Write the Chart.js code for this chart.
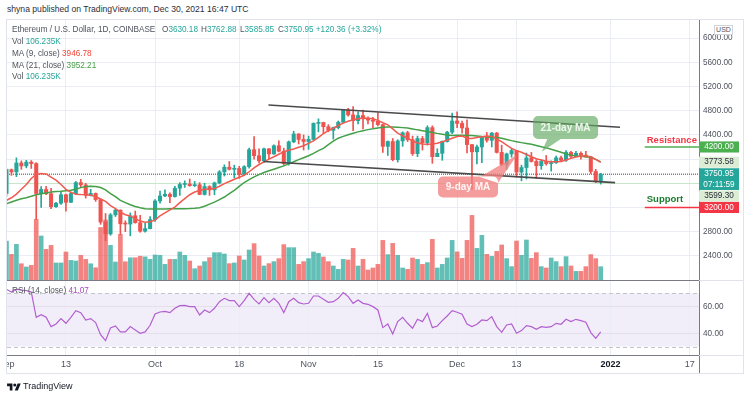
<!DOCTYPE html>
<html>
<head>
<meta charset="utf-8">
<script src="https://cdn.jsdelivr.net/npm/chart.js@4.4.0/dist/chart.umd.min.js"></script>
<style>
  body { margin: 0; width: 750px; height: 398px; position: relative; overflow: hidden; background: #fff;
         font-family: "Liberation Sans", Arial, sans-serif; }
  #frame { position: absolute; left: 6px; top: 19px; width: 738px; height: 355px; box-sizing: border-box; border: 1px solid #e0e3eb; }
  canvas { position: absolute; }
  .t { position: absolute; white-space: nowrap; font-size: 8.2px; line-height: 11px; color: #50535e; z-index: 5; }
  .up { color: #26a69a; }
  #usd { position: absolute; left: 714px; top: 25px; width: 17px; height: 8px; border: 1px solid #d1d4dc; background: #fff;
         font-size: 7px; line-height: 8px; text-align: center; color: #50535e; z-index: 5; }
</style>
</head>
<body>
<div id="frame"></div>
<canvas id="main" width="736" height="260" style="left:7px;top:20px"></canvas>
<canvas id="rsi" width="736" height="93" style="left:7px;top:280px"></canvas>

<div class="t" style="left:7px;top:4px;font-size:8.6px;color:#2a2e39">shyna published on TradingView.com, Dec 30, 2021 16:47 UTC</div>
<div class="t" style="left:12px;top:24px">Ethereum / U.S. Dollar, 1D, COINBASE</div>
<div class="t" style="left:162px;top:24px">O<span class="up">3630.18</span></div>
<div class="t" style="left:201px;top:24px">H<span class="up">3762.88</span></div>
<div class="t" style="left:240px;top:24px">L<span class="up">3585.85</span></div>
<div class="t" style="left:278px;top:24px">C<span class="up">3750.95</span> <span class="up">+120.36 (+3.32%)</span></div>
<div class="t" style="left:12px;top:36px">Vol <span class="up">106.235K</span></div>
<div class="t" style="left:12px;top:48px">MA (9, close) <span style="color:#f44336">3946.78</span></div>
<div class="t" style="left:12px;top:59.5px">MA (21, close) <span style="color:#43a047">3952.21</span></div>
<div class="t" style="left:12px;top:71px">Vol <span class="up">106.235K</span></div>
<div id="usd">USD</div>
<div class="t" style="left:12px;top:285px">RSI (14, close) <span style="color:#ab47bc">41.07</span></div>
<svg style="position:absolute;left:7px;top:382px" width="14" height="10" viewBox="0 0 36 26"><path d="M14 22H7V11H0V4h14v18zM28 22h-8l7.5-18h8L28 22z" fill="#131722"/><circle cx="20" cy="8" r="4" fill="#131722"/></svg>
<div class="t" style="left:23px;top:381px;font-size:9px;color:#131722">TradingView</div>

<script>
// ETH/USD daily, Sep 1 - Dec 30 2021
const priceOpen = [
  3430,3825,3787,3935,3887,3950,3926,3430,3497,3427,3212,3270,3410,3285,3429,3611,3573,3399,3432,3330,2958,2762,3077,3155,2930,2925,3063,2947,2807,2850,
  3000,3307,3390,3418,3380,3518,3580,3587,3560,3575,3415,3545,3490,3605,3788,3865,3830,3845,3745,3875,4155,4055,3970,4170,4085,4220,4130,3925,4285,4415,4325,
  4290,4325,4590,4605,4535,4475,4520,4610,4810,4730,4635,4720,4665,4645,4625,4570,4210,4290,3990,4300,4435,4320,4090,4340,4270,4520,4040,4095,4290,4445,
  4630,4590,4515,4240,4120,4200,4355,4310,4430,4110,3910,4085,4140,3785,3860,4020,3960,3890,3960,3925,3940,4020,3980,4110,4045,4095,4065,4035,3795,3630.18
];
const priceHigh = [
  3840,3835,4020,3970,3980,3975,3940,3545,3550,3515,3285,3450,3420,3450,3630,3665,3600,3500,3440,3340,3100,3100,3170,3160,2980,3110,3140,3070,2940,3050,
  3330,3470,3490,3440,3550,3610,3640,3670,3630,3610,3600,3560,3620,3810,3905,3960,3900,3880,3890,4180,4370,4170,4180,4175,4235,4300,4180,4300,4460,4420,4400,
  4380,4600,4665,4610,4570,4530,4630,4820,4840,4870,4780,4810,4700,4690,4770,4580,4300,4340,4320,4450,4460,4380,4380,4375,4550,4550,4170,4300,4460,4760,
  4780,4630,4650,4240,4230,4360,4440,4440,4440,4230,4100,4180,4140,3900,4100,4110,3990,3990,4060,3970,4050,4050,4140,4130,4130,4120,4130,4040,3830,3762.88
];
const priceLow = [
  3385,3730,3710,3830,3855,3845,3000,3200,3410,3180,3200,3250,3140,3280,3420,3530,3355,3390,3300,2920,2650,2740,3050,2750,2800,2730,2940,2790,2790,2845,
  2970,3270,3380,3280,3370,3400,3530,3550,3545,3410,3405,3400,3410,3590,3720,3820,3690,3680,3725,3850,4000,3935,3950,4000,4075,4120,3900,3900,4270,4250,4150,
  4160,4310,4450,4430,4450,4330,4500,4600,4710,4470,4580,4500,4580,4520,4550,4110,4060,3970,3950,4210,4290,4060,4040,4150,4230,3930,4040,3980,4280,4420,
  4520,4430,4100,3500,3920,3940,4280,4200,4100,3890,3830,4030,3700,3640,3670,3950,3680,3830,3900,3800,3930,3960,3960,4020,4040,4000,4030,3760,3610,3585.85
];
const priceClose = [
  3825,3787,3935,3887,3950,3926,3430,3497,3427,3212,3270,3410,3285,3429,3611,3573,3399,3432,3330,2958,2762,3077,3155,2930,2925,3063,2947,2807,2850,3000,
  3307,3390,3418,3380,3518,3580,3587,3560,3575,3415,3545,3490,3605,3788,3865,3830,3845,3745,3875,4155,4055,3970,4170,4085,4220,4130,3925,4285,4415,4325,4290,
  4325,4590,4605,4535,4475,4520,4610,4810,4730,4635,4720,4665,4645,4625,4570,4210,4290,3990,4300,4435,4320,4090,4340,4270,4520,4040,4095,4290,4445,4630,
  4590,4515,4240,4120,4200,4355,4310,4430,4110,3910,4085,4140,3785,3860,4020,3960,3890,3960,3925,3940,4020,3980,4110,4045,4095,4065,4035,3795,3630,3750.95
];
// volume in thousands
const volumeK = [
  312,205,285,130,104,117,485,352,245,277,136,136,224,157,152,197,165,130,98,420,480,277,144,365,146,178,178,190,185,165,
  200,197,125,165,165,224,197,152,90,112,147,179,219,219,208,131,136,192,160,240,291,192,112,131,147,171,283,259,259,125,147,
  171,224,213,184,147,112,85,165,160,253,112,165,80,96,125,317,203,293,197,96,85,176,165,125,139,325,96,125,176,317,
  225,173,317,517,253,357,205,189,229,280,171,107,312,197,320,173,219,107,96,176,147,107,187,112,69,69,107,203,171,106.235
];
const ma9 = [
  3317,3360,3420,3500,3580,3680,3745,3762,3755,3700,3650,3580,3500,3450,3420,3415,3412,3400,3380,3340,
  3300,3230,3180,3120,3080,3060,3010,2975,2955,2965,2990,3060,3110,3160,3205,3280,3345,3410,3455,3480,
  3500,3505,3512,3550,3595,3630,3667,3700,3733,3790,3855,3910,3955,4000,4038,4080,4122,4145,4167,4195,
  4220,4260,4300,4360,4420,4470,4510,4555,4595,4625,4650,4665,4678,4675,4667,4640,4600,4567,4500,4430,
  4385,4345,4300,4265,4250,4245,4250,4262,4285,4315,4345,4372,4380,4345,4340,4355,4370,4383,4375,4330,
  4288,4230,4178,4140,4112,4075,4038,4005,3983,3965,3955,3955,3961,3985,4011,4035,4050,4050,4038,3995,
  3946.78
];
const ma21 = [
  3262,3290,3320,3345,3362,3385,3410,3428,3440,3455,3462,3467,3475,3483,3500,3528,3545,3550,3548,3530,
  3490,3430,3380,3317,3280,3245,3215,3195,3180,3175,3175,3175,3176,3177,3178,3178,3180,3183,3188,3195,
  3220,3255,3288,3330,3372,3428,3483,3548,3612,3660,3705,3742,3778,3806,3833,3860,3888,3920,3955,3990,
  4022,4055,4095,4140,4178,4240,4295,4345,4375,4403,4428,4450,4470,4487,4500,4515,4528,4530,4530,4528,
  4520,4512,4498,4483,4470,4455,4440,4425,4412,4400,4388,4395,4392,4390,4388,4380,4372,4367,4362,4355,
  4345,4325,4305,4288,4272,4258,4245,4225,4205,4185,4162,4138,4112,4083,4065,4050,4045,4040,4030,3995,
  3952.21
];
const rsi14 = [
  73,71,73,72.5,72,71,52,54,52,45,47,51,47.5,52,57,55.5,50,51,48,39,
  34.5,44,45.5,41,41,45,42.5,40,41,46,54.5,56,56.5,55.5,58.75,60.75,61,60,60,53.75,
  57.5,55.5,58.75,63.75,66.25,64.5,64.5,60,64.5,70,65.5,62,66.75,63,66.25,62.5,55.5,63.75,66.25,63,
  62,62.5,68,68,65.5,63.25,63.75,66.25,70.5,67.5,62.5,65,62.5,61.75,60,57.5,44.25,47,39.5,48.75,
  52,47.5,43.75,50.5,48.75,55,44.25,45.5,49.5,53,57,55.75,54.25,47,45,46.75,50,49.5,52.5,45,
  40.75,46.25,47,40,42,45.75,45,43,45,44.5,45,47.5,46.75,50.5,48.75,50.5,49.5,48.25,40.5,36.25,
  41.07
];

const priceTicks = [2400, 2800, 3200, 3600, 4000, 4400, 4800, 5200, 5600, 6000];
const hiddenPriceTicks = [3200, 3600, 4000]; // covered by the price labels
const rsiTicks = [40, 60];
const dayTicks = [0, 12, 30, 47, 61, 75, 91, 103, 122, 138];
const dayTickLabels = ['Sep', '13', 'Oct', '18', 'Nov', '15', 'Dec', '13', '2022', '17'];

// drawn channel and levels (day index, price)
const channelUpper = [[52.9, 4894], [123.9, 4526]];
const channelLower = [[51.9, 3960], [122.9, 3610]];
const resistanceLevel = 4200;
const supportLevel = 3200;
const levelFromDay = 128.9;
const lastPrice = 3750.95;
const dayHighPrice = 3773.58;
const dayLowPrice = 3599.30;

const xMin = 0.1, xMax = 139.85;
const upColor = '#26a69a', downColor = '#ef5350';
const gridColor = '#eaedf3', axisColor = '#787b86';
const FONT = '"Liberation Sans", Arial, sans-serif';
Chart.defaults.font.family = FONT;

const days = priceClose.map((_, i) => i);
const up = days.map(i => priceClose[i] >= priceOpen[i]);

function ticksFrom(list) {
  return s => { s.ticks = list.map(v => ({ value: v })); };
}

function callout(ctx, cx, cy, w, h, tail, fill, text, color) {
  ctx.fillStyle = fill;
  ctx.beginPath();
  ctx.roundRect(cx - w / 2, cy - h / 2, w, h, 5);
  ctx.moveTo(tail[0][0], tail[0][1]);
  ctx.lineTo(tail[1][0], tail[1][1]);
  ctx.lineTo(tail[2][0], tail[2][1]);
  ctx.closePath();
  ctx.fill();
  ctx.fillStyle = color;
  ctx.font = 'bold 10px ' + FONT;
  ctx.textAlign = 'center';
  ctx.textBaseline = 'middle';
  ctx.fillText(text, cx, cy + 0.5);
}

const mainOverlay = {
  id: 'mainOverlay',
  beforeDatasetsDraw(chart) {
    const { ctx, chartArea: a, scales: { y } } = chart;
    const lines = [
      { v: dayHighPrice, c: '#a5d6a7', dash: [1, 1] },
      { v: lastPrice, c: '#26a69a', dash: [1, 1] },
      { v: dayLowPrice, c: '#c8e6c9', dash: [] }
    ];
    ctx.save();
    lines.forEach(l => {
      const py = Math.round(y.getPixelForValue(l.v)) + 0.5;
      ctx.strokeStyle = l.c;
      ctx.setLineDash(l.dash);
      ctx.lineWidth = 1;
      ctx.beginPath();
      ctx.moveTo(a.left, py);
      ctx.lineTo(a.right, py);
      ctx.stroke();
    });
    ctx.restore();
  },
  afterDatasetsDraw(chart) {
    const { ctx, scales: { x, y } } = chart;
    ctx.save();
    // 21-day MA callout
    const c1x = x.getPixelForValue(112.9), c1y = y.getPixelForValue(4522);
    callout(ctx, c1x, c1y, 65, 23,
      [[c1x - 18, c1y + 11], [c1x - 4, c1y + 11], [x.getPixelForValue(108.1), y.getPixelForValue(4122)]],
      'rgba(96,168,96,0.65)', '21-day MA', '#eef7ee');
    // 9-day MA callout
    const c2x = x.getPixelForValue(93.2), c2y = y.getPixelForValue(3539);
    callout(ctx, c2x, c2y, 60, 21,
      [[c2x + 12, c2y - 10], [c2x + 30, c2y - 4], [x.getPixelForValue(103.1), y.getPixelForValue(4068)]],
      'rgba(242,128,128,0.78)', '9-day MA', '#fff5f5');
    // level captions
    ctx.font = 'bold 9.5px ' + FONT;
    ctx.textAlign = 'left';
    ctx.textBaseline = 'middle';
    ctx.fillStyle = '#f23645';
    ctx.fillText('Resistance', x.getPixelForValue(129.3), y.getPixelForValue(resistanceLevel) - 6.5);
    ctx.fillStyle = '#1b7d2e';
    ctx.fillText('Support', x.getPixelForValue(129.3), y.getPixelForValue(supportLevel) - 8);
    ctx.restore();
  },
  afterDraw(chart) {
    const { ctx, chartArea: a, scales: { y } } = chart;
    const boxes = [
      { v: resistanceLevel, lines: ['4200.00'], bg: '#4caf50', fg: '#ffffff', dy: 0 },
      { v: dayHighPrice, lines: ['3773.58'], bg: '#dcedd6', fg: '#2a2e39', dy: -10.5 },
      { v: lastPrice, lines: ['3750.95', '07:11:59'], bg: '#26a69a', fg: '#ffffff', dy: 5 },
      { v: dayLowPrice, lines: ['3599.30'], bg: '#dcedd6', fg: '#2a2e39', dy: 12.7 },
      { v: supportLevel, lines: ['3200.00'], bg: '#f23645', fg: '#ffffff', dy: 0 }
    ];
    ctx.save();
    ctx.font = '8.2px ' + FONT;
    ctx.textAlign = 'center';
    ctx.textBaseline = 'middle';
    boxes.forEach(b => {
      const h = b.lines.length * 10.6 + 0.5;
      const cy = y.getPixelForValue(b.v) + b.dy;
      ctx.fillStyle = b.bg;
      ctx.fillRect(a.right, cy - h / 2, 40, h);
      ctx.fillStyle = b.fg;
      b.lines.forEach((t, i) => ctx.fillText(t, a.right + 20, cy - h / 2 + 5.5 + i * 10.5));
    });
    ctx.restore();
  }
};

new Chart(document.getElementById('main'), {
  type: 'bar',
  data: {
    datasets: [
      { type: 'line', data: [[levelFromDay, resistanceLevel], [xMax, resistanceLevel]].map(p => ({ x: p[0], y: p[1] })),
        borderColor: '#4caf50', borderWidth: 1.5, pointRadius: 0, order: 0 },
      { type: 'line', data: [[levelFromDay, supportLevel], [xMax, supportLevel]].map(p => ({ x: p[0], y: p[1] })),
        borderColor: '#f23645', borderWidth: 1.5, pointRadius: 0, order: 0 },
      { type: 'line', data: channelUpper.map(p => ({ x: p[0], y: p[1] })),
        borderColor: '#4a4a4a', borderWidth: 1.6, pointRadius: 0, order: 1 },
      { type: 'line', data: channelLower.map(p => ({ x: p[0], y: p[1] })),
        borderColor: '#4a4a4a', borderWidth: 1.6, pointRadius: 0, order: 1 },
      { type: 'line', data: days.map(i => ({ x: i, y: ma9[i] })),
        borderColor: '#f05a50', borderWidth: 1.5, pointRadius: 0, order: 2 },
      { type: 'line', data: days.map(i => ({ x: i, y: ma21[i] })),
        borderColor: '#43a047', borderWidth: 1.5, pointRadius: 0, order: 3 },
      { data: days.map(i => ({ x: i, y: [priceOpen[i], priceClose[i]] })),
        backgroundColor: days.map(i => up[i] ? upColor : downColor),
        barThickness: 3.4, minBarLength: 1, grouped: false, order: 4 },
      { data: days.map(i => ({ x: i, y: [priceLow[i], priceHigh[i]] })),
        backgroundColor: days.map(i => up[i] ? upColor : downColor),
        barThickness: 1, grouped: false, order: 5 },
      { data: days.map(i => ({ x: i, y: volumeK[i] })), yAxisID: 'vol',
        backgroundColor: days.map(i => up[i] ? 'rgba(38,166,154,0.72)' : 'rgba(239,83,80,0.72)'),
        barThickness: 4, grouped: false, order: 6 }
    ]
  },
  options: {
    responsive: false, animation: false, events: [],
    layout: { padding: 0 },
    plugins: { legend: { display: false }, tooltip: { enabled: false } },
    scales: {
      x: { type: 'linear', min: xMin, max: xMax, offset: false,
           grid: { color: gridColor, drawTicks: false, offset: false }, border: { display: false },
           ticks: { display: false },
           afterBuildTicks: ticksFrom(dayTicks),
           afterFit: s => { s.height = 0; s.paddingLeft = 0; s.paddingRight = 0; } },
      y: { position: 'right', min: 2000, max: 6300,
           grid: { color: gridColor, drawTicks: false }, border: { color: axisColor },
           ticks: { padding: 4, color: '#50535e', font: { size: 8.2 },
                    callback: v => hiddenPriceTicks.includes(v) ? '' : v.toFixed(2) },
           afterBuildTicks: ticksFrom(priceTicks),
           afterFit: s => { s.width = 44; s.paddingTop = 0; s.paddingBottom = 0; } },
      vol: { type: 'linear', axis: 'y', position: 'left', display: false, min: 0, max: 2080 }
    }
  },
  plugins: [mainOverlay]
});

const rsiOverlay = {
  id: 'rsiOverlay',
  beforeDraw(chart) {
    const { ctx, chartArea: a, scales: { y } } = chart;
    const top = y.getPixelForValue(70), bottom = y.getPixelForValue(30);
    ctx.save();
    ctx.fillStyle = 'rgba(126,87,194,0.1)';
    ctx.fillRect(a.left, top, a.right - a.left, bottom - top);
    ctx.restore();
  },
  beforeDatasetsDraw(chart) {
    const { ctx, chartArea: a, scales: { y } } = chart;
    ctx.save();
    ctx.strokeStyle = '#c3c5cc';
    ctx.lineWidth = 1;
    ctx.setLineDash([4, 3]);
    [70, 30].forEach(v => {
      const py = Math.round(y.getPixelForValue(v)) + 0.5;
      ctx.beginPath();
      ctx.moveTo(a.left, py);
      ctx.lineTo(a.right, py);
      ctx.stroke();
    });
    ctx.restore();
  },
  afterDraw(chart) {
    const { ctx, chartArea: a, width, height } = chart;
    ctx.save();
    ctx.strokeStyle = axisColor;
    ctx.lineWidth = 1;
    ctx.beginPath();
    ctx.moveTo(0, 0.5);
    ctx.lineTo(a.right, 0.5);
    ctx.moveTo(a.right + 0.5, a.bottom);
    ctx.lineTo(a.right + 0.5, height);
    ctx.stroke();
    ctx.strokeStyle = '#e0e3eb';
    ctx.beginPath();
    ctx.moveTo(a.right, 0.5);
    ctx.lineTo(width, 0.5);
    ctx.moveTo(a.right, a.bottom + 0.5);
    ctx.lineTo(width, a.bottom + 0.5);
    ctx.stroke();
    ctx.restore();
  }
};

new Chart(document.getElementById('rsi'), {
  type: 'line',
  data: {
    datasets: [{ data: days.map(i => ({ x: i, y: rsi14[i] })),
                 borderColor: '#b25fcf', borderWidth: 1.2, pointRadius: 0 }]
  },
  options: {
    responsive: false, animation: false, events: [],
    layout: { padding: 0 },
    plugins: { legend: { display: false }, tooltip: { enabled: false } },
    scales: {
      x: { type: 'linear', min: xMin, max: xMax, offset: false,
           grid: { color: gridColor, drawTicks: false }, border: { color: axisColor },
           ticks: { autoSkip: false, maxRotation: 0, padding: 4,
                    color: c => dayTickLabels[c.index] === '2022' ? '#131722' : '#50535e',
                    font: c => ({ size: 9, weight: dayTickLabels[c.index] === '2022' ? 'bold' : 'normal' }),
                    callback: (v, i) => dayTickLabels[i] },
           afterBuildTicks: ticksFrom(dayTicks),
           afterFit: s => { s.height = 18; s.paddingLeft = 0; s.paddingRight = 0; } },
      y: { position: 'right', min: 23.7, max: 80,
           grid: { color: 'rgba(120,123,134,0.12)', drawTicks: false }, border: { color: axisColor },
           ticks: { padding: 4, color: '#50535e', font: { size: 8.2 }, callback: v => v.toFixed(2) },
           afterBuildTicks: ticksFrom(rsiTicks),
           afterFit: s => { s.width = 44; s.paddingTop = 0; s.paddingBottom = 0; } }
    }
  },
  plugins: [rsiOverlay]
});
</script>
</body>
</html>
